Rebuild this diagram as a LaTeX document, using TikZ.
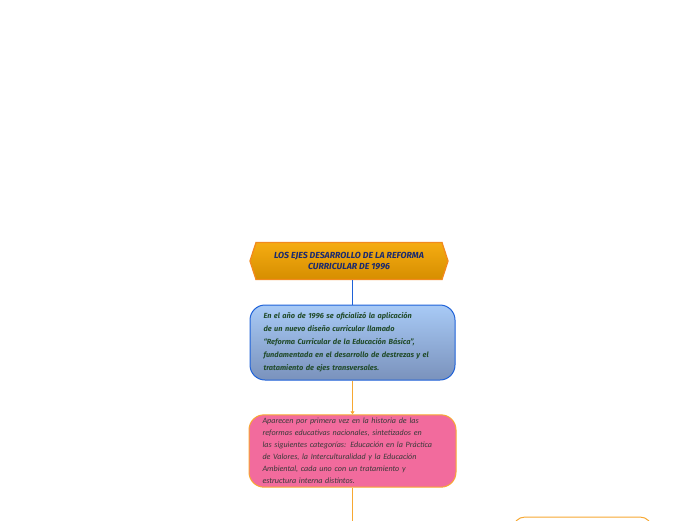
\documentclass[tikz,border=0pt]{standalone}
\usepackage{fontspec}
\setmainfont{Carlito}
\newfontfamily\titlefont{Fira Sans}
\newfontfamily\notefont{Fira Sans}
\usetikzlibrary{shapes.symbols,arrows.meta}

\definecolor{titletop}{HTML}{F5AC12}
\definecolor{titlebot}{HTML}{D68E00}
\definecolor{titleedge}{HTML}{F28A1E}
\definecolor{titletext}{HTML}{1B2A6E}
\definecolor{bluetop}{HTML}{A8CAF6}
\definecolor{bluebot}{HTML}{7A92BC}
\definecolor{blueedge}{HTML}{1F62D8}
\definecolor{bluetext}{HTML}{224C2C}
\definecolor{pinkfill}{HTML}{F26B9D}
\definecolor{orangeedge}{HTML}{F7A832}
\definecolor{pinktext}{HTML}{3A3A3A}

\tikzset{
  titlebox/.style={signal, signal to=west and east, signal pointer angle=144,
    draw=titleedge, line width=1.3pt, top color=titletop, bottom color=titlebot,
    minimum width=198pt, minimum height=37pt, inner sep=0pt, align=center,
    text=titletext, font=\titlefont\bfseries\itshape\fontsize{8.8}{11}\selectfont},
  bluebox/.style={rectangle, rounded corners=15pt, draw=blueedge, line width=1pt,
    top color=bluetop, bottom color=bluebot, minimum width=205pt, minimum height=75pt,
    text width=178pt, align=left, text=bluetext,
    font=\notefont\bfseries\itshape\fontsize{7.4}{13}\selectfont},
  pinkbox/.style={rectangle, rounded corners=15pt, draw=orangeedge, line width=1pt,
    fill=pinkfill, minimum width=207pt, minimum height=72pt,
    text width=180pt, align=left, text=pinktext,
    font=\itshape\fontsize{8.1}{12}\selectfont},
  nextbox/.style={rectangle, rounded corners=12pt, draw=orangeedge, line width=1pt,
    fill=white, minimum width=139pt, minimum height=40pt},
  bluelink/.style={draw=blueedge, line width=0.6pt},
  orangelink/.style={draw=orangeedge, line width=0.9pt},
}

\begin{document}
\begin{tikzpicture}[x=1pt,y=-1pt]
\useasboundingbox (0,0) rectangle (696,520);
\clip (0,0) rectangle (696,520);

\node[titlebox] (title) at (349,261) {LOS EJES DESARROLLO DE LA REFORMA\\CURRICULAR DE 1996};
\node[bluebox] (reforma) at (352.5,342.5) {En el año de 1996 se oficializó la aplicación\\de un nuevo diseño curricular llamado\\“Reforma Curricular de la Educación Básica”,\\fundamentada en el desarrollo de destrezas y el\\tratamiento de ejes transversales.};
\node[pinkbox] (ejes) at (352.5,451) {Aparecen por primera vez en la historia de las\\reformas educativas nacionales, sintetizados en\\las siguientes categorías: Educación en la Práctica\\de Valores, la Interculturalidad y la Educación\\Ambiental, cada uno con un tratamiento y\\estructura interna distintos.};
\node[nextbox] (next) at (582.5,537) {};
\coordinate (down) at (352.5,540);

\draw[bluelink] (reforma.north |- title.south) -- (reforma.north);
\draw[orangelink,-{Triangle[width=4pt,length=3pt]}] (reforma.south) -- (ejes.north);
\draw[orangelink] (ejes.south) -- (down);

\end{tikzpicture}
\end{document}
